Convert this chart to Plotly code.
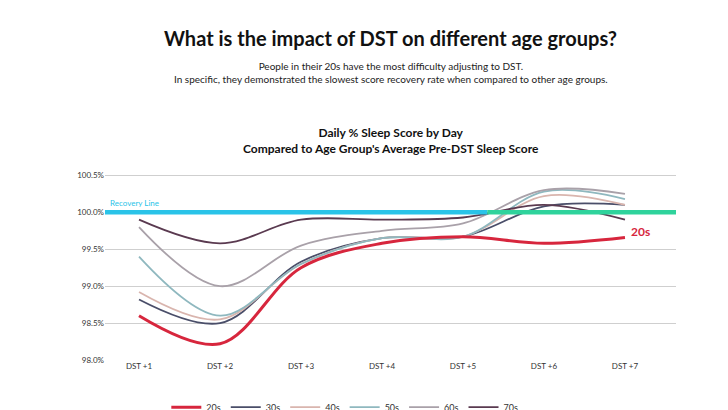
import plotly.graph_objects as go

# --- Data ---
days = [1, 2, 3, 4, 5, 6, 7]
day_labels = ["DST +1", "DST +2", "DST +3", "DST +4", "DST +5", "DST +6", "DST +7"]
groups = ["20s", "30s", "40s", "50s", "60s", "70s"]
scores = {
    "20s": [98.60, 98.22, 99.25, 99.58, 99.67, 99.58, 99.66],
    "30s": [98.82, 98.50, 99.33, 99.65, 99.67, 100.08, 100.10],
    "40s": [98.92, 98.55, 99.30, 99.65, 99.67, 100.22, 100.10],
    "50s": [99.40, 98.60, 99.30, 99.65, 99.67, 100.28, 100.18],
    "60s": [99.80, 99.00, 99.55, 99.75, 99.85, 100.30, 100.25],
    "70s": [99.90, 99.58, 99.90, 99.90, 99.93, 100.10, 99.90],
}
colors = {"20s": "#d7263d", "30s": "#4a4e69", "40s": "#d9b5ae",
          "50s": "#8fb8bf", "60s": "#a9a1a9", "70s": "#5a3a50"}
widths = {"20s": 3, "30s": 1.8, "40s": 1.8, "50s": 1.8, "60s": 1.8, "70s": 1.8}

fig = go.Figure()

# recovery line (cyan -> green)
fig.add_shape(type="line", xref="x", yref="y", x0=0.58, x1=5.3, y0=100, y1=100,
              line=dict(color="#2ac3e8", width=4.5), layer="above")
fig.add_shape(type="line", xref="x", yref="y", x0=5.3, x1=7.63, y0=100, y1=100,
              line=dict(color="#2fd39c", width=4.5), layer="above")
fig.add_annotation(x=0.62, y=100, xref="x", yref="y", text="Recovery Line", showarrow=False,
                   xanchor="left", yanchor="bottom", yshift=2,
                   font=dict(size=8, color="#2ac3e8"))

for g in groups:
    fig.add_trace(go.Scatter(x=days, y=scores[g], mode="lines", name=g,
                             legendrank=groups.index(g),
                             line=dict(color=colors[g], width=widths[g], shape="spline", smoothing=1.0)))
# draw 20s on top
fig.data = fig.data[1:] + fig.data[:1]

fig.add_annotation(x=7, y=scores["20s"][-1], text="<b>20s</b>", showarrow=False,
                   xanchor="left", xshift=4, yshift=6, font=dict(size=12, color="#d7263d"))

# titles
fig.add_annotation(x=0.5, y=1, xref="paper", yref="paper", yanchor="bottom", yshift=10,
                   text="<b>Daily % Sleep Score by Day<br>Compared to Age Group's Average Pre-DST Sleep Score</b>",
                   showarrow=False, font=dict(size=12, color="#111"))
fig.add_annotation(x=0.5, y=30, xref="paper", yref="paper", yanchor="middle", showarrow=False,
                   text="<b>What is the impact of DST on different age groups?</b>",
                   font=dict(size=20, color="#111"))
fig.layout.annotations[-1].update(y=1 + (160 - 30) / 192)
fig.add_annotation(x=0.5, y=1 + (160 - 65) / 192, xref="paper", yref="paper", yanchor="middle",
                   showarrow=False,
                   text="People in their 20s have the most difficulty adjusting to DST.<br>"
                        "In specific, they demonstrated the slowest score recovery rate when compared to other age groups.",
                   font=dict(size=10, color="#222"))

fig.update_layout(
    font=dict(family="Lato, Open Sans, sans-serif", color="#333"),
    width=728, height=410,
    paper_bgcolor="white", plot_bgcolor="white",
    margin=dict(l=97, r=60, t=160, b=58, autoexpand=False),
    xaxis=dict(range=[0.58, 7.63], tickvals=days, ticktext=day_labels, showgrid=False,
               zeroline=False, tickfont=dict(size=8, color="#333"), ticks=""),
    yaxis=dict(range=[98, 100.6], tickvals=[98, 98.5, 99, 99.5, 100, 100.5],
               ticktext=["98.0%", "98.5%", "99.0%", "99.5%", "100.0%", "100.5%"],
               gridcolor="#cfcfcf", gridwidth=1, zeroline=False, tickfont=dict(size=8, color="#333")),
    legend=dict(orientation="h", x=0.42, xanchor="center", y=-0.17, yanchor="top",
                font=dict(size=9), traceorder="normal", itemwidth=30),
    showlegend=True,
)
fig.write_html("out.html")
